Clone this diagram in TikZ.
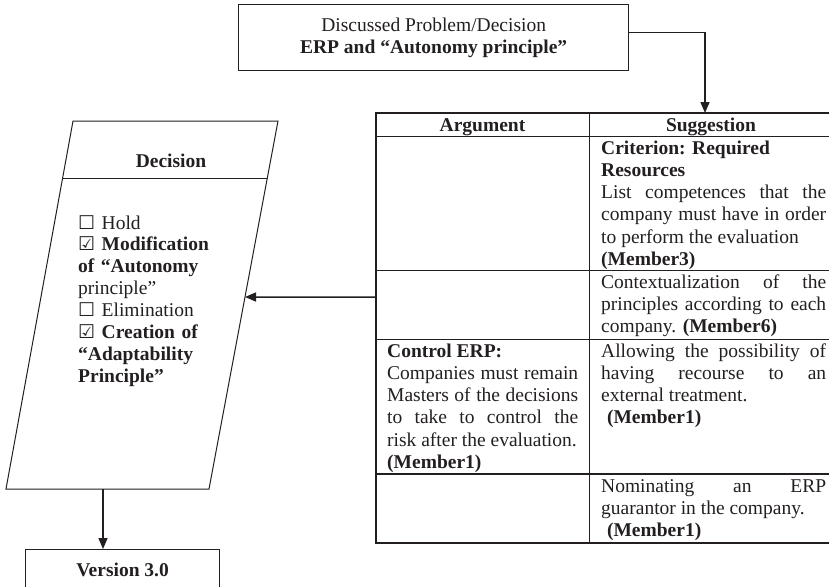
\documentclass[tikz,border=0pt]{standalone}
\usepackage{fontspec}
\setmainfont{Liberation Serif}
\newfontfamily\symfont{DejaVu Sans}
\usetikzlibrary{arrows.meta,calc}
\definecolor{ink}{HTML}{231F20}
\setlength{\parindent}{0pt}
\hyphenpenalty=10000 \exhyphenpenalty=10000
\hbadness=10000
\newcommand\boxno{{\symfont\fontsize{19}{19}\selectfont ☐}}
\newcommand\boxyes{{\symfont\fontsize{19}{19}\selectfont ☑}}
\begin{document}
\begin{tikzpicture}[x=1pt,y=-1pt,
  every node/.style={inner sep=0pt, text=ink},
  font=\fontsize{19.5}{22.3}\selectfont,
  boxstyle/.style={draw=ink, line width=1.3pt, align=center},
  arr/.style={draw=ink, line width=1.5pt, -{Triangle[length=11pt,width=9pt]}},
  tabout/.style={draw=ink, line width=1.8pt},
  tabin/.style={draw=ink, line width=1pt},
  para/.style={draw=ink, line width=1pt, line join=miter},
  cellS/.style={anchor=base west, text width=225pt, align=justify},
  cellA/.style={anchor=base west, text width=191pt, align=justify}]
\useasboundingbox (0,0) rectangle (829,586);
\clip (0,0) rectangle (829,586);

% top problem box
\node[boxstyle, minimum width=390pt, minimum height=66pt, anchor=north west] (prob) at (238,4)
  {Discussed Problem/Decision\\\textbf{ERP and “Autonomy principle”}};

% table grid
\draw[tabout] (835,113) -- (376,113) -- (376,543) -- (835,543);
\draw[tabin] (376,136) -- (835,136);
\draw[tabin] (376,270) -- (835,270);
\draw[tabin] (376,339) -- (835,339);
\draw[tabout] (376,474) -- (835,474);
\draw[tabin] (589,113) -- (589,543);
\draw[tabout] (831,113) -- (831,543);
\coordinate (tabletop) at (705,113);
\coordinate (tableleft) at (376,297);

% headers
\node[anchor=base] (hArg) at (482.5,131) {\textbf{Argument}};
\node[anchor=base] (hSug) at (711,131) {\textbf{Suggestion}};

% cells
\node[cellS] (s1) at (601,154) {\textbf{Criterion: Required}\newline\textbf{Resources}\newline List competences that the\linebreak company must have in order\linebreak to perform the evaluation\newline\textbf{(Member3)}};
\node[cellS] (s2) at (601,288) {Contextualization of the\linebreak principles according to each\linebreak company. \textbf{(Member6)}};
\node[cellS] (s3) at (601,357) {Allowing the possibility of\linebreak having recourse to an\linebreak external treatment.\newline\hspace*{0.3em}\textbf{(Member1)}};
\node[cellA] (a3) at (387,357) {\textbf{Control ERP:}\newline Companies must remain\linebreak Masters of the decisions\linebreak to take to control the\linebreak risk after the evaluation.\newline\textbf{(Member1)}};
\node[cellS] (s4) at (601,492) {Nominating an ERP\linebreak guarantor in the company.\newline\hspace*{0.3em}\textbf{(Member1)}};

% decision parallelogram
\coordinate (pTL) at (73,121);
\coordinate (pTR) at (278,121);
\coordinate (pBR) at (209,489);
\coordinate (pBL) at (6,489);
\draw[para] (pTL) -- (pTR) -- (pBR) -- (pBL) -- cycle;
\draw[para] ($(pTL)!0.1576!(pBL)$) -- ($(pTR)!0.1576!(pBR)$);
\coordinate (pR) at ($(pTR)!0.4783!(pBR)$);
\coordinate (pB) at (103,489);
\node[anchor=base] (dech) at (171,167) {\textbf{Decision}};
\node[anchor=base west, text width=160pt, align=left, font=\fontsize{19.5}{21.9}\selectfont] (decl) at (78,229)
  {\boxno\ Hold\\
   \boxyes\ \textbf{Modification}\\
   \textbf{of “Autonomy}\\
   principle”\\
   \boxno\ Elimination\\
   \boxyes\ \textbf{Creation of}\\
   \textbf{“Adaptability}\\
   \textbf{Principle”}};

% version box
\node[boxstyle, minimum width=194pt, minimum height=40pt, anchor=north west] (ver) at (25,549) {\textbf{Version 3.0}};

% connectors
\draw[arr] ([yshift=5pt]prob.east) -| (tabletop);
\draw[arr] (tableleft) -- (pR);
\draw[arr] (pB) -- (pB |- ver.north);
\end{tikzpicture}
\end{document}
